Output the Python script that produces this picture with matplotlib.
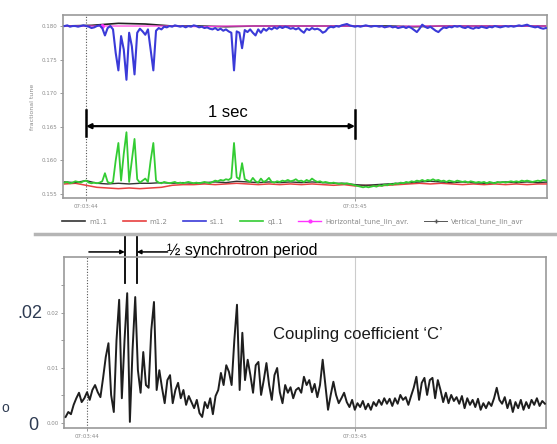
import numpy as np
import matplotlib
matplotlib.use('Agg')
import matplotlib.pyplot as plt
from matplotlib.lines import Line2D

# ---- data ----
# top panel: tune signals, sampled every 10 ms starting at -80 ms (0 ms = 07:03:44)
t0_fast, dt_fast = -80, 10
s11_tune = [0.1800, 0.1801, 0.1799, 0.1800, 0.1800, 0.1799, 0.1800, 0.1801,
            0.1800, 0.1799, 0.1797, 0.1798, 0.1800, 0.1801, 0.1797, 0.1786, 0.1797, 0.1800,
            0.1795, 0.1760, 0.1734, 0.1785, 0.1765, 0.1720, 0.1790, 0.1770, 0.1728, 0.1790,
            0.1796, 0.1792, 0.1787, 0.1795, 0.1765, 0.1734, 0.1793, 0.1797, 0.1795, 0.1799,
            0.1798, 0.1800, 0.1799, 0.1801, 0.1800, 0.1799, 0.1800, 0.1798, 0.1800, 0.1799,
            0.1801, 0.1800, 0.1798, 0.1799, 0.1797, 0.1798, 0.1796, 0.1795, 0.1797, 0.1794,
            0.1796, 0.1793, 0.1795, 0.1792, 0.1790, 0.1734, 0.1792, 0.1790, 0.1767, 0.1794,
            0.1791, 0.1795, 0.1790, 0.1786, 0.1795, 0.1790, 0.1796, 0.1793, 0.1797, 0.1795,
            0.1798, 0.1796, 0.1799, 0.1797, 0.1799, 0.1798, 0.1796, 0.1797, 0.1795, 0.1797,
            0.1793, 0.1790, 0.1796, 0.1794, 0.1797, 0.1795, 0.1796, 0.1794, 0.1790, 0.1792,
            0.1797, 0.1799, 0.1798, 0.1800, 0.1799, 0.1801, 0.1802, 0.1803, 0.1801, 0.1800,
            0.1799, 0.1800, 0.1799, 0.1800, 0.1801, 0.1800, 0.1799, 0.1800, 0.1800, 0.1799,
            0.1800, 0.1798, 0.1799, 0.1800, 0.1798, 0.1799, 0.1797, 0.1798, 0.1799, 0.1797,
            0.1799, 0.1797, 0.1794, 0.1791, 0.1796, 0.1802, 0.1799, 0.1797, 0.1799, 0.1796,
            0.1793, 0.1791, 0.1795, 0.1798, 0.1797, 0.1799, 0.1798, 0.1800, 0.1799, 0.1800,
            0.1798, 0.1797, 0.1799, 0.1797, 0.1796, 0.1798, 0.1797, 0.1799, 0.1798, 0.1797,
            0.1799, 0.1798, 0.1800, 0.1799, 0.1798, 0.1799, 0.1800, 0.1799, 0.1800, 0.1799,
            0.1800, 0.1801, 0.1800, 0.1801, 0.1802, 0.1800, 0.1799, 0.1798, 0.1799, 0.1797, 0.1796, 0.1797]
q11_tune = [0.1567, 0.1568, 0.1566, 0.1567, 0.1569, 0.1568, 0.1567, 0.1569,
            0.1570, 0.1567, 0.1566, 0.1567, 0.1566, 0.1567, 0.1569, 0.1581, 0.1568, 0.1566,
            0.1568, 0.1600, 0.1626, 0.1570, 0.1610, 0.1642, 0.1568, 0.1600, 0.1632, 0.1572,
            0.1567, 0.1570, 0.1573, 0.1568, 0.1600, 0.1626, 0.1570, 0.1567, 0.1566, 0.1568,
            0.1567, 0.1566, 0.1567, 0.1568, 0.1566, 0.1567, 0.1566, 0.1567, 0.1568, 0.1567,
            0.1566, 0.1567, 0.1566, 0.1567, 0.1568, 0.1567, 0.1566, 0.1568, 0.1570, 0.1569,
            0.1571, 0.1570, 0.1572, 0.1571, 0.1574, 0.1626, 0.1575, 0.1572, 0.1596, 0.1572,
            0.1570, 0.1568, 0.1574, 0.1569, 0.1567, 0.1573, 0.1568, 0.1570, 0.1574, 0.1568,
            0.1567, 0.1569, 0.1568, 0.1570, 0.1569, 0.1571, 0.1569, 0.1570, 0.1572, 0.1569,
            0.1570, 0.1568, 0.1571, 0.1569, 0.1573, 0.1570, 0.1568, 0.1569, 0.1567, 0.1568,
            0.1567, 0.1566, 0.1567, 0.1566, 0.1565, 0.1566, 0.1565, 0.1566, 0.1565, 0.1564,
            0.1563, 0.1562, 0.1561, 0.1560, 0.1561, 0.1560, 0.1561, 0.1562, 0.1561, 0.1563,
            0.1562, 0.1564, 0.1563, 0.1565, 0.1564, 0.1566, 0.1565, 0.1567, 0.1566, 0.1568,
            0.1567, 0.1569, 0.1568, 0.1570, 0.1569, 0.1571, 0.1569, 0.1571, 0.1570, 0.1572,
            0.1570, 0.1571, 0.1569, 0.1570, 0.1568, 0.1570, 0.1569, 0.1568, 0.1570, 0.1569,
            0.1568, 0.1569, 0.1567, 0.1569, 0.1568, 0.1567, 0.1568, 0.1567, 0.1568, 0.1566,
            0.1568, 0.1567, 0.1566, 0.1568, 0.1567, 0.1568, 0.1567, 0.1568, 0.1569, 0.1568,
            0.1569, 0.1568, 0.1570, 0.1569, 0.1570, 0.1569, 0.1568, 0.1569, 0.1570, 0.1569, 0.1571, 0.1570]

# slower signals, every 40 ms from -80 ms
t0_slow, dt_slow = -80, 40
m11_tune = [0.1568, 0.1567, 0.1570, 0.1566, 0.1565, 0.1566, 0.1565, 0.1566, 0.1566, 0.1567,
            0.1566, 0.1567, 0.1566, 0.1567, 0.1568, 0.1567, 0.1569, 0.1568, 0.1567, 0.1568,
            0.1567, 0.1568, 0.1567, 0.1568, 0.1567, 0.1566, 0.1566, 0.1564, 0.1563, 0.1564,
            0.1565, 0.1566, 0.1567, 0.1568, 0.1569, 0.1568, 0.1567, 0.1568, 0.1567, 0.1566,
            0.1567, 0.1568, 0.1567, 0.1568, 0.1567, 0.1568]
m12_tune = [0.1565, 0.1566, 0.1563, 0.1560, 0.1559, 0.1558, 0.1559, 0.1558, 0.1559, 0.1560,
            0.1563, 0.1564, 0.1564, 0.1565, 0.1564, 0.1565, 0.1566, 0.1565, 0.1564, 0.1565,
            0.1564, 0.1565, 0.1564, 0.1565, 0.1564, 0.1563, 0.1564, 0.1562, 0.1563, 0.1562,
            0.1563, 0.1564, 0.1565, 0.1566, 0.1565, 0.1566, 0.1565, 0.1564, 0.1565, 0.1564,
            0.1565, 0.1564, 0.1565, 0.1564, 0.1565, 0.1565]

# averaged tunes, every 100 ms from -80 ms
t0_avg, dt_avg = -80, 100
horizontal_avg = [0.1800, 0.1800, 0.1800, 0.1800, 0.1800, 0.1799, 0.1800, 0.1800, 0.1800, 0.1800,
                  0.1800, 0.1800, 0.1799, 0.1800, 0.1800, 0.1800, 0.1800, 0.1800, 0.1800]
vertical_avg = [0.1800, 0.1801, 0.1804, 0.1803, 0.1800, 0.1800, 0.1799, 0.1800, 0.1800, 0.1800,
                0.1800, 0.1800, 0.1800, 0.1799, 0.1800, 0.1800, 0.1800, 0.1800, 0.1800]

# bottom panel: coupling coefficient C, every 10 ms from -80 ms
coupling = [0.0011, 0.0020, 0.0016, 0.0033, 0.0045, 0.0055, 0.0038, 0.0045,
            0.0056, 0.0042, 0.0060, 0.0069, 0.0056, 0.0047, 0.0082, 0.0120, 0.0145, 0.0051,
            0.0020, 0.0150, 0.0224, 0.0045, 0.0150, 0.0236, 0.0002, 0.0133, 0.0229, 0.0096,
            0.0055, 0.0129, 0.0069, 0.0064, 0.0169, 0.0220, 0.0060, 0.0096, 0.0064, 0.0036,
            0.0078, 0.0087, 0.0036, 0.0060, 0.0073, 0.0045, 0.0060, 0.0033, 0.0049, 0.0038,
            0.0027, 0.0042, 0.0018, 0.0011, 0.0038, 0.0027, 0.0045, 0.0016, 0.0049, 0.0060,
            0.0091, 0.0069, 0.0105, 0.0093, 0.0069, 0.0150, 0.0215, 0.0060, 0.0164, 0.0078,
            0.0115, 0.0087, 0.0055, 0.0105, 0.0111, 0.0051, 0.0078, 0.0109, 0.0069, 0.0042,
            0.0087, 0.0100, 0.0056, 0.0036, 0.0069, 0.0055, 0.0065, 0.0045, 0.0060, 0.0064,
            0.0055, 0.0084, 0.0069, 0.0078, 0.0056, 0.0071, 0.0047, 0.0069, 0.0115, 0.0069,
            0.0024, 0.0051, 0.0075, 0.0051, 0.0036, 0.0045, 0.0055, 0.0038, 0.0029, 0.0042,
            0.0024, 0.0036, 0.0029, 0.0040, 0.0025, 0.0035, 0.0024, 0.0038, 0.0031, 0.0042,
            0.0033, 0.0045, 0.0035, 0.0044, 0.0031, 0.0045, 0.0035, 0.0051, 0.0042, 0.0047,
            0.0033, 0.0049, 0.0064, 0.0084, 0.0042, 0.0073, 0.0082, 0.0051, 0.0078, 0.0082,
            0.0045, 0.0078, 0.0060, 0.0038, 0.0055, 0.0036, 0.0051, 0.0040, 0.0047, 0.0035,
            0.0049, 0.0027, 0.0045, 0.0033, 0.0042, 0.0029, 0.0044, 0.0024, 0.0036, 0.0027,
            0.0038, 0.0031, 0.0045, 0.0064, 0.0042, 0.0035, 0.0047, 0.0027, 0.0042, 0.0020,
            0.0038, 0.0027, 0.0042, 0.0024, 0.0038, 0.0027, 0.0042, 0.0033, 0.0045, 0.0031, 0.0040, 0.0035]

time_ticks = [0, 1000]
time_labels = ['07:03:44', '07:03:45']
tune_ticks = [0.155, 0.160, 0.165, 0.170, 0.175, 0.180]
coupling_ticks = [0.0, 0.01, 0.02]
legend_labels = ['m1.1', 'm1.2', 's1.1', 'q1.1', 'Horizontal_tune_lin_avr.', 'Vertical_tune_lin_avr']


def times(start, step, values):
    return start + step * np.arange(len(values))


xlim = (-86, 1714)
frame_color = '#9a9a9a'
tick_color = '#8a8a8a'

fig = plt.figure(figsize=(5.57, 4.44), dpi=100)
W, H = 557.0, 444.0

# ---- top panel: tunes ----
ax1 = fig.add_axes([63 / W, 1 - 198 / H, 484 / W, 183 / H])
ax1.axvline(0, color='#555555', lw=0.8, ls=(0, (1, 1.5)), zorder=1)
ax1.axvline(1000, color='#cccccc', lw=0.8, zorder=1)
# averaged tunes sit under the s1.1 trace, only the bumps show through
ax1.plot(times(t0_avg, dt_avg, vertical_avg), vertical_avg, color='#222222', lw=1.2, zorder=1.5)
ax1.plot(times(t0_avg, dt_avg, horizontal_avg), horizontal_avg, color='#ff44dd', lw=0.9, zorder=2)
ax1.plot([60], [horizontal_avg[1]], color='#ff33ff', marker='o', ms=2.5, zorder=2)
l_m12, = ax1.plot(times(t0_slow, dt_slow, m12_tune), m12_tune, color='#e84040', lw=1.1, zorder=3)
l_m11, = ax1.plot(times(t0_slow, dt_slow, m11_tune), m11_tune, color='#333333', lw=1.0, zorder=3)
l_q11, = ax1.plot(times(t0_fast, dt_fast, q11_tune), q11_tune, color='#33cc33', lw=1.3, zorder=4)
l_s11, = ax1.plot(times(t0_fast, dt_fast, s11_tune), s11_tune, color='#3a3ad8', lw=1.5, zorder=4)
ax1.set_xlim(*xlim)
ax1.set_ylim(0.15441, 0.18164)
ax1.set_yticks(tune_ticks)
ax1.set_yticklabels(['%.3f' % v for v in tune_ticks])
ax1.set_xticks(time_ticks)
ax1.set_xticklabels(time_labels)
ax1.set_ylabel('fractional tune', fontsize=4.5, color=tick_color, labelpad=5)

# 1 sec marker
y_sec = 0.16510
ax1.annotate('', xy=(0, y_sec), xytext=(1000, y_sec),
             arrowprops=dict(arrowstyle='<|-|>', color='black', lw=1.6,
                             mutation_scale=7, shrinkA=0, shrinkB=0))
ax1.plot([0, 0], [0.16360, 0.16750], color='black', lw=1.8)
ax1.plot([1000, 1000], [0.16330, 0.16750], color='black', lw=1.8)
ax1.text(528, 0.16719, '1 sec', fontsize=12, family='Liberation Sans', ha='center', va='center')

# ---- bottom panel: coupling coefficient ----
ax2 = fig.add_axes([64 / W, 1 - 428 / H, 482 / W, 171 / H])
ax2.axvline(0, color='#555555', lw=0.8, ls=(0, (1, 1.5)), zorder=1)
ax2.axvline(1000, color='#cccccc', lw=0.8, zorder=1)
ax2.plot(times(t0_fast, dt_fast, coupling), coupling, color='#1e1e1e', lw=1.4, zorder=3)
ax2.set_xlim(*xlim)
ax2.set_ylim(-0.00091, 0.03018)
ax2.set_yticks(coupling_ticks)
ax2.set_yticklabels(['%.2f' % v for v in coupling_ticks])
ax2.set_yticks([0.005, 0.015, 0.025], minor=True)
ax2.set_xticks(time_ticks)
ax2.set_xticklabels(time_labels)

# half synchrotron period marker
y_arr = 0.0311
ax2.annotate('', xy=(141, y_arr), xytext=(7, y_arr), annotation_clip=False,
             arrowprops=dict(arrowstyle='-|>', color='black', lw=1.1, mutation_scale=6,
                             shrinkA=0, shrinkB=0))
ax2.annotate('', xy=(186, y_arr), xytext=(301, y_arr), annotation_clip=False,
             arrowprops=dict(arrowstyle='-|>', color='black', lw=1.1, mutation_scale=6,
                             shrinkA=0, shrinkB=0))
ax2.plot([141, 141], [0.0255, 0.0340], color='black', lw=1.3, clip_on=False)
ax2.plot([186, 186], [0.0255, 0.0340], color='black', lw=1.3, clip_on=False)
ax2.text(297, 0.03145, '½ synchrotron period', fontsize=11.5, family='Liberation Sans',
         ha='left', va='center')
ax2.text(1010, 0.0161, 'Coupling coefficient ‘C’', fontsize=12, family='Liberation Sans',
         ha='center', va='center', color='#1a1a1a')

for ax in (ax1, ax2):
    for sp in ax.spines.values():
        sp.set_color(frame_color)
        sp.set_linewidth(1.2)
    ax.tick_params(which='both', labelsize=4, colors=tick_color, length=2, width=0.6, pad=2)

# big hand-made scale labels on the left of the lower panel
fig.text(30 / W, 1 - 313 / H, '.02', fontsize=13, color='#2e3b52', family='Liberation Sans',
         ha='center', va='center')
fig.text(33 / W, 1 - 425 / H, '0', fontsize=13, color='#2e3b52', family='Liberation Sans',
         ha='center', va='center')
fig.text(1 / W, 1 - 408 / H, 'o', fontsize=10, color='#2e3b52', family='Liberation Sans',
         ha='left', va='center')

# legend row of the top panel (proxy handles carry the markers of the original)
handles = [Line2D([], [], color='#333333', lw=1.2),
           Line2D([], [], color='#e84040', lw=1.2),
           Line2D([], [], color='#3a3ad8', lw=1.2),
           Line2D([], [], color='#33cc33', lw=1.2),
           Line2D([], [], color='#ff33ff', lw=1.0, marker='.', ms=4),
           Line2D([], [], color='#555555', lw=0.7, marker='+', ms=3.5)]
fig.legend(handles, legend_labels, loc='center left',
           bbox_to_anchor=(56 / W, 1 - 222 / H), ncol=6, frameon=False, fontsize=5,
           handlelength=3.3, handletextpad=0.6, columnspacing=2.2, labelcolor=tick_color)

# grey separator between the two panels
fig.add_artist(Line2D([35 / W, 1.0], [1 - 234 / H, 1 - 234 / H], color='#b5b5b5', lw=2.5))

fig.savefig('out.png', dpi=100)
